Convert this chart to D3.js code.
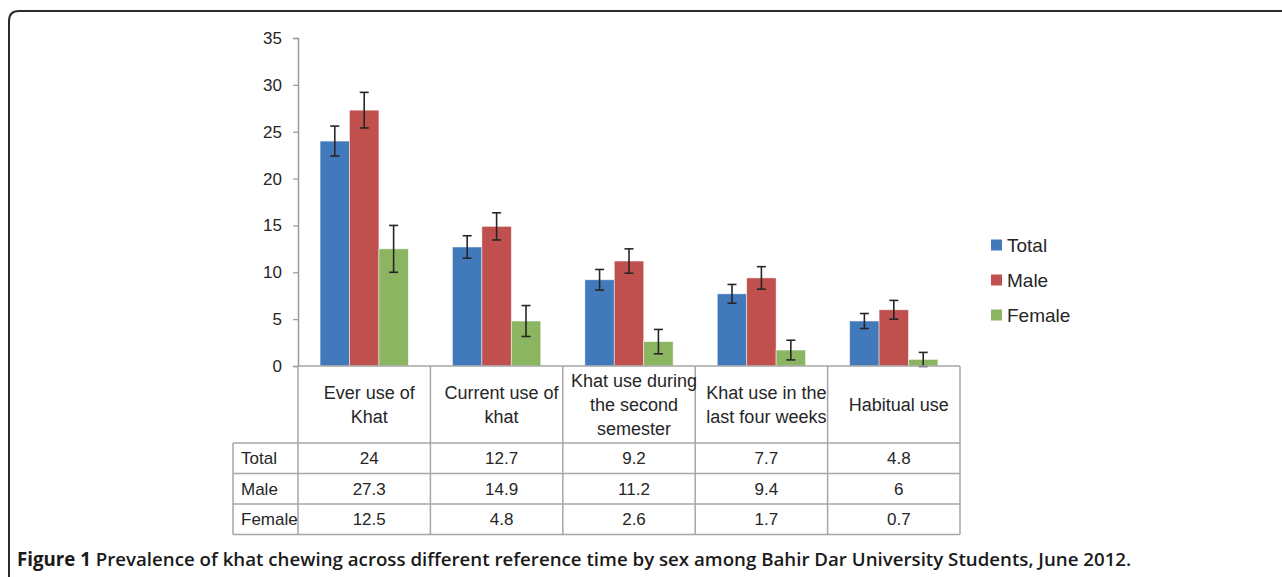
<!DOCTYPE html>
<html>
<head>
<meta charset="utf-8">
<script src="https://cdn.jsdelivr.net/npm/d3@7"></script>
<style>
  html, body { margin: 0; padding: 0; background: #fff; }
  svg { display: block; }
</style>
</head>
<body>
<div id="chart"></div>
<script>
// ----------------------------------
// DATA
// ----------------------------------
const categories = [
	['Ever use of', 'Khat'],
	['Current use of', 'khat'],
	['Khat use during', 'the second', 'semester'],
	['Khat use in the', 'last four weeks'],
	['Habitual use']
];
const seriesNames = ['Total', 'Male', 'Female'];
const totalValues = [24, 12.7, 9.2, 7.7, 4.8];
const maleValues = [27.3, 14.9, 11.2, 9.4, 6];
const femaleValues = [12.5, 4.8, 2.6, 1.7, 0.7];
// error bar half-widths
const totalErrors = [1.6, 1.2, 1.1, 1.0, 0.8];
const maleErrors = [1.9, 1.45, 1.3, 1.2, 1.0];
const femaleErrors = [2.5, 1.65, 1.3, 1.05, 0.75];
const yTicks = [0, 5, 10, 15, 20, 25, 30, 35];
const colors = ['#4279bb', '#bf504d', '#8bb560'];
const caption = ['Figure 1', ' Prevalence of khat chewing across different reference time by sex among Bahir Dar University Students, June 2012.'];

const seriesValues = [totalValues, maleValues, femaleValues];
const seriesErrors = [totalErrors, maleErrors, femaleErrors];
const catKeys = categories.map((c, i) => i);

const width = 1282, height = 577;
const margin = {left: 298, right: 322, top: 38, bottom: 211};
const plotBottom = height - margin.bottom;

const svg = d3.select('#chart').append('svg')
	.attr('width', width)
	.attr('height', height)
	.style('font-family', '"Liberation Sans", Arial, sans-serif');

// outer frame, rounded top-left corner
svg.append('path')
	.attr('d', 'M9,580 L9,21 Q9,11 19,11 L1285,11')
	.attr('fill', 'none')
	.attr('stroke', '#2b2b2b')
	.attr('stroke-width', 2);

// ----------------------------------
// SCALES AND AXES
// ----------------------------------
const y = d3.scaleLinear()
	.domain([0, 35])
	.range([plotBottom, margin.top]);

const x = d3.scaleBand()
	.domain(catKeys)
	.range([margin.left, width - margin.right])
	.padding(0);

const xs = d3.scaleBand()
	.domain(seriesNames)
	.range([0, x.bandwidth()])
	.paddingInner(0)
	.paddingOuter(0.75);

const yAxis = d3.axisLeft(y)
	.tickValues(yTicks)
	.tickSize(5)
	.tickPadding(11)
	.tickFormat(d3.format('d'));

const gy = svg.append('g')
	.attr('transform', `translate(${margin.left},0)`)
	.call(yAxis);
gy.select('.domain').attr('stroke', '#9a9a9a').attr('stroke-width', 1.5);
gy.selectAll('.tick line').attr('stroke', '#9a9a9a').attr('stroke-width', 1.2);
gy.selectAll('.tick text')
	.attr('fill', '#262626')
	.style('font-size', '17px');

// ----------------------------------
// BARS
// ----------------------------------
const groups = svg.append('g').selectAll('g')
	.data(seriesNames)
	.join('g')
	.attr('fill', (d, i) => colors[i]);

groups.selectAll('rect')
	.data((s, si) => catKeys.map(c => ({c, s, v: seriesValues[si][c], e: seriesErrors[si][c]})))
	.join('rect')
	.attr('x', d => x(d.c) + xs(d.s))
	.attr('y', d => y(d.v))
	.attr('width', xs.bandwidth())
	.attr('height', d => y(0) - y(d.v))
	.attr('stroke', '#ffffff')
	.attr('stroke-opacity', 0.6)
	.attr('stroke-width', 0.8);

// error bars
const errs = svg.append('g')
	.attr('stroke', '#262626')
	.attr('stroke-width', 1.6)
	.selectAll('g')
	.data(seriesNames.flatMap((s, si) => catKeys.map(c => ({c, s, v: seriesValues[si][c], e: seriesErrors[si][c]}))))
	.join('g')
	.attr('transform', d => `translate(${x(d.c) + xs(d.s) + xs.bandwidth() / 2},0)`);

errs.append('line')
	.attr('y1', d => y(d.v + d.e))
	.attr('y2', d => y(d.v - d.e));
errs.append('line')
	.attr('x1', -4.5).attr('x2', 4.5)
	.attr('y1', d => y(d.v + d.e)).attr('y2', d => y(d.v + d.e));
errs.append('line')
	.attr('x1', -4.5).attr('x2', 4.5)
	.attr('y1', d => y(d.v - d.e)).attr('y2', d => y(d.v - d.e));

// ----------------------------------
// DATA TABLE
// ----------------------------------
const headerBottom = 443;
const rowH = 30.5;
const labelLeft = 233;
const tableRight = width - margin.right;
const tableBottom = headerBottom + rowH * seriesNames.length;
const textShift = 5; // excel centres table text a bit right of the cell middle
const grid = svg.append('g')
	.attr('stroke', '#a6a6a6')
	.attr('stroke-width', 1.5);

// x axis line
grid.append('line')
	.attr('x1', margin.left).attr('x2', tableRight)
	.attr('y1', plotBottom).attr('y2', plotBottom);

// vertical lines at band edges
grid.selectAll('line.v')
	.data(catKeys.concat([catKeys.length]))
	.join('line')
	.attr('class', 'v')
	.attr('x1', d => d < catKeys.length ? x(d) : tableRight)
	.attr('x2', d => d < catKeys.length ? x(d) : tableRight)
	.attr('y1', plotBottom)
	.attr('y2', tableBottom);

grid.append('line')
	.attr('x1', labelLeft).attr('x2', labelLeft)
	.attr('y1', headerBottom).attr('y2', tableBottom);

grid.selectAll('line.h')
	.data(d3.range(seriesNames.length + 1))
	.join('line')
	.attr('class', 'h')
	.attr('x1', labelLeft).attr('x2', tableRight)
	.attr('y1', d => headerBottom + d * rowH)
	.attr('y2', d => headerBottom + d * rowH);

// header text
const headerMid = (plotBottom + headerBottom) / 2;
svg.append('g').selectAll('text')
	.data(categories)
	.join('text')
	.attr('text-anchor', 'middle')
	.attr('fill', '#262626')
	.style('font-size', '18px')
	.attr('x', (d, i) => x(i) + x.bandwidth() / 2 + textShift)
	.attr('y', d => headerMid - (d.length - 1) * 12)
	.selectAll('tspan')
	.data(d => d)
	.join('tspan')
	.attr('x', function() { return this.parentNode.getAttribute('x'); })
	.attr('dy', (d, i) => i === 0 ? '0.35em' : 24)
	.text(d => d);

// row labels and values
const rows = svg.append('g').selectAll('g')
	.data(seriesNames)
	.join('g')
	.attr('transform', (d, i) => `translate(0,${headerBottom + (i + 0.5) * rowH})`)
	.attr('fill', '#262626')
	.style('font-size', '17px');

rows.append('text')
	.attr('x', labelLeft + 8)
	.attr('dy', '0.35em')
	.text(d => d);

rows.selectAll('text.val')
	.data((s, si) => seriesValues[si].map((v, c) => ({v, c})))
	.join('text')
	.attr('class', 'val')
	.attr('text-anchor', 'middle')
	.attr('x', d => x(d.c) + x.bandwidth() / 2 + textShift)
	.attr('dy', '0.35em')
	.text(d => d.v);

// ----------------------------------
// LEGEND
// ----------------------------------
const legend = svg.append('g')
	.attr('transform', 'translate(991,245)')
	.selectAll('g')
	.data(seriesNames)
	.join('g')
	.attr('transform', (d, i) => `translate(0,${i * 35})`);

legend.append('rect')
	.attr('x', 0).attr('y', -5.5)
	.attr('width', 11).attr('height', 11)
	.attr('fill', (d, i) => colors[i]);

legend.append('text')
	.attr('x', 16)
	.attr('dy', '0.36em')
	.attr('fill', '#262626')
	.style('font-size', '19px')
	.text(d => d);

// ----------------------------------
// CAPTION
// ----------------------------------
const cap = svg.append('text')
	.attr('x', 17)
	.attr('y', 566)
	.attr('fill', '#1a1a1a')
	.style('font-family', '"Open Sans", "Noto Sans", sans-serif')
	.style('font-size', '18.7px');
cap.append('tspan').style('font-weight', 700).text(caption[0]);
cap.append('tspan').style('font-weight', 600).text(caption[1]);
</script>
</body>
</html>
